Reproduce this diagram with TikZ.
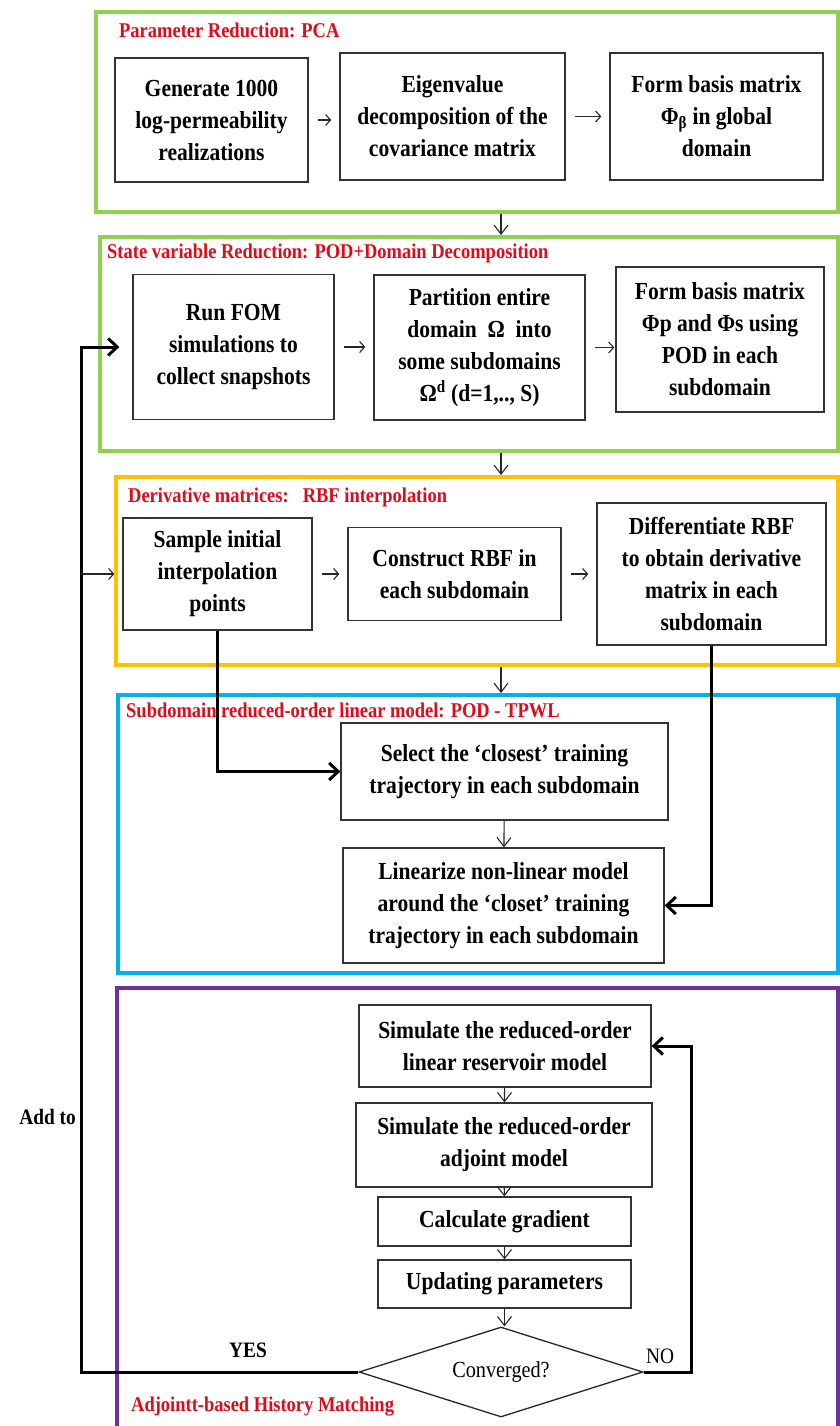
\documentclass[tikz,border=0pt]{standalone}
\usepackage{fontspec}
\setmainfont{Liberation Serif}
\newfontfamily\narrowserif{Liberation Serif}[FakeStretch=0.88]
\usepackage{tikz}
\usetikzlibrary{arrows.meta}
\usetikzlibrary{shapes.geometric}
\usepackage{xcolor}
\definecolor{pcagreen}{RGB}{146,208,80}
\definecolor{rbfyellow}{RGB}{255,192,0}
\definecolor{tpwlblue}{RGB}{0,176,240}
\definecolor{histpurple}{RGB}{112,48,160}
\definecolor{titlered}{RGB}{225,10,25}

\begin{document}
\begin{tikzpicture}[x=1pt,y=-1pt,
  box/.style={draw=black!80,line width=1.3pt,align=center,inner sep=0pt,
    font=\narrowserif\fontsize{24.5}{32}\selectfont\bfseries},
  panel/.style={line width=4pt,inner sep=0pt},
  caption/.style={anchor=west,text=titlered,inner sep=0pt,
    font=\narrowserif\fontsize{21}{22}\selectfont\bfseries},
  flow/.style={-{Straight Barb[length=5pt,width=11pt]},draw=black!85,line width=1.1pt,
    shorten <=9pt,shorten >=8pt},
  vflow/.style={-{Straight Barb[length=9pt,width=14pt]},draw=black!85,line width=1.1pt},
  bigflow/.style={-{Straight Barb[length=9pt,width=17pt]},line width=3pt}]
  \useasboundingbox (0,0) rectangle (840,1426);
  \path[fill=white] (0,0) rectangle (840,1426);

  % frames of the five stages
  \node[panel,draw=pcagreen,minimum width=742pt,minimum height=200pt] (pca) at (467,112) {};
  \node[panel,draw=pcagreen,minimum width=738pt,minimum height=214pt] (pod) at (469,344) {};
  \node[panel,draw=rbfyellow,minimum width=722pt,minimum height=188pt] (rbf) at (477,571) {};
  \node[panel,draw=tpwlblue,minimum width=720pt,minimum height=278pt] (tpwl) at (478,834) {};
  \draw[panel,draw=histpurple] (117,1430) -- (117,988) -- (838,988) -- (838,1430);

  \node[caption] (tpca) at (119,30) {Parameter Reduction: PCA};
  \node[caption] (tpod) at (107,253) {State variable Reduction: POD+Domain Decomposition};
  \node[caption] (trbf) at (128,497) {Derivative matrices:\hspace{14pt}RBF interpolation};
  \node[caption] (ttpwl) at (126,710) {Subdomain reduced-order linear model: POD - TPWL};
  \node[caption] (thist) at (131,1407) {Adjointt-based History Matching};

  % PCA
  \node[box,minimum width=193pt,minimum height=124pt] (gen) at (211.5,120) {Generate 1000\\log-permeability\\realizations};
  \node[box,minimum width=225pt,minimum height=127pt] (eig) at (452.5,116.5) {Eigenvalue\\decomposition of the\\covariance matrix};
  \node[box,minimum width=213pt,minimum height=127pt] (form) at (716.5,116.5) {Form basis matrix\\Φ\textsubscript{β} in global\\domain};
  \draw[flow] (gen.east) -- (gen.east -| eig.west);
  \draw[flow] (eig.east) -- (eig.east -| form.west);

  % POD + DD
  \node[box,minimum width=201pt,minimum height=145pt] (runfom) at (233.5,347) {Run FOM\\simulations to\\collect snapshots};
  \node[box,minimum width=211pt,minimum height=145pt] (part) at (479.5,347.5) {Partition entire\\domain\ \ Ω\ \ into\\some subdomains\\Ω\textsuperscript{d} (d=1,.., S)};
  \node[box,minimum width=208pt,minimum height=145pt] (formp) at (720,339.5) {Form basis matrix\\Φp and Φs using\\POD in each\\subdomain};
  \draw[flow] (runfom.east) -- (runfom.east -| part.west);
  \draw[flow,shorten >=1pt] (part.east) -- (part.east -| formp.west);

  % RBF
  \node[box,minimum width=189pt,minimum height=112pt] (sample) at (217.5,574) {Sample initial\\interpolation\\points};
  \node[box,minimum width=213pt,minimum height=93pt] (constr) at (454.5,574) {Construct RBF in\\each subdomain};
  \node[box,minimum width=229pt,minimum height=142pt] (diff) at (711.5,574) {Differentiate RBF\\to obtain derivative\\matrix in each\\subdomain};
  \draw[flow] (sample.east) -- (constr.west);
  \draw[flow] (constr.east) -- (diff.west);

  % TPWL
  \node[box,minimum width=327pt,minimum height=97pt] (select) at (504.5,771.5) {Select the ‘closest’ training\\trajectory in each subdomain};
  \node[box,minimum width=321pt,minimum height=115pt] (linz) at (503.5,905.5) {Linearize non-linear model\\around the ‘closet’ training\\trajectory in each subdomain};
  \draw[vflow] (select) -- (linz);
  \draw[bigflow] (sample.south) |- (select.west);
  \draw[bigflow] (diff.south) |- (linz.east);

  % history matching loop
  \node[box,minimum width=292pt,minimum height=82pt] (simlin) at (505,1046) {Simulate the reduced-order\\linear reservoir model};
  \node[box,minimum width=296pt,minimum height=84pt] (simadj) at (504,1145) {Simulate the reduced-order\\adjoint model};
  \node[box,minimum width=253pt,minimum height=49pt] (grad) at (504.5,1221.5) {Calculate gradient};
  \node[box,minimum width=253pt,minimum height=48pt] (upd) at (504.5,1284) {Updating parameters};
  \node[draw=black!85,line width=1.3pt,diamond,aspect=3.2,minimum width=284pt,minimum height=90pt,
    inner sep=0pt,font=\narrowserif\fontsize{23}{24}\selectfont] (conv) at (501,1372) {Converged?};
  \draw[vflow] (simlin) -- (simadj);
  \draw[vflow] (simadj) -- (grad);
  \draw[vflow] (grad) -- (upd);
  \draw[vflow] (upd.south) -- (upd.south |- conv.north);
  \draw[bigflow] (conv.east) -- ++(48,0) |- (simlin.east);

  % stage to stage
  \draw[vflow] (pca.south -| conv) -- (pod.north -| conv);
  \draw[vflow] (pod.south -| conv) -- (rbf.north -| conv);
  \draw[vflow] (rbf.south -| conv) -- (tpwl.north -| conv);

  % back to the snapshots
  \coordinate (back) at (81,0);
  \draw[bigflow,shorten >=13pt] (conv.west) -- (conv.west -| back) -- (back |- runfom.west) -- (runfom.west);
  \draw[flow,shorten <=0pt] (back |- sample.west) -- (sample.west);
  \node[anchor=east,inner sep=0pt,font=\narrowserif\fontsize{22}{22}\selectfont\bfseries] (addto) at (76,1117) {Add to};
  \node[font=\narrowserif\fontsize{22}{22}\selectfont\bfseries] (yes) at (248,1350) {YES};
  \node[font=\narrowserif\fontsize{22}{22}\selectfont] (no) at (660,1356) {NO};
\end{tikzpicture}
\end{document}
